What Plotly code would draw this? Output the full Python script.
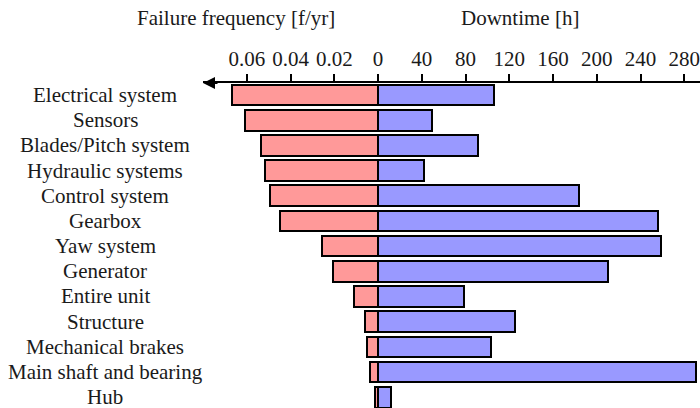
import plotly.graph_objects as go

categories = ["Electrical system", "Sensors", "Blades/Pitch system", "Hydraulic systems",
              "Control system", "Gearbox", "Yaw system", "Generator", "Entire unit",
              "Structure", "Mechanical brakes", "Main shaft and bearing", "Hub"]
failure_freq = [0.0668, 0.0607, 0.0536, 0.0515, 0.0496, 0.0447, 0.0254,
                0.0204, 0.0108, 0.0059, 0.0049, 0.0037, 0.0012]
downtime = [106, 49, 91, 42, 184, 256, 259, 210, 79, 125, 103, 291, 12]
freq_ticks = [0.06, 0.04, 0.02]
freq_ticktext = ["0.06", "0.04", "0.02"]
down_ticks = [0, 40, 80, 120, 160, 200, 240, 280]
down_ticktext = [str(v) for v in down_ticks]

FONT = "Liberation Serif"
TXT = "#1a1a1a"
FS = 21

W, H = 700, 408
L, R, T, B = 203, 0, 83, 0
PW, PH = W - L - R, H - T - B
zero_px = 378
split = (zero_px - L) / PW


def px_x(x):
    return (x - L) / PW


def px_y(y):
    return (H - B - y) / PH


fig = go.Figure()
fig.add_trace(go.Bar(y=categories, x=failure_freq, orientation="h", xaxis="x", yaxis="y",
                     marker=dict(color="rgb(255,153,153)", line=dict(color="black", width=2)),
                     width=0.82, showlegend=False))
fig.add_trace(go.Bar(y=categories, x=downtime, orientation="h", xaxis="x2", yaxis="y",
                     marker=dict(color="rgb(153,153,255)", line=dict(color="black", width=2)),
                     width=0.82, showlegend=False))

common = dict(side="top", showline=True, linewidth=2, linecolor="black", showgrid=False,
              zeroline=False, tickwidth=2, tickcolor="black", automargin=False, anchor="y")
tf = dict(family=FONT, size=FS, color=TXT)

fig.update_layout(
    width=W, height=H,
    margin=dict(l=L, r=R, t=T, b=B, autoexpand=False),
    paper_bgcolor="white", plot_bgcolor="white",
    bargap=0,
    xaxis=dict(domain=[0, split], range=[0.08, 0], tickmode="array", tickvals=freq_ticks,
               ticktext=freq_ticktext, ticks="outside", ticklen=7, ticklabelstandoff=0,
               tickfont=tf, **common),
    xaxis3=dict(overlaying="x", range=[0.08, 0], tickmode="array", tickvals=freq_ticks,
                ticks="inside", ticklen=6, showticklabels=False, **common),
    xaxis2=dict(domain=[split, 1], range=[0, 294.4], tickmode="array", tickvals=down_ticks,
                ticktext=down_ticktext, ticks="outside", ticklen=7, ticklabelstandoff=0,
                tickfont=tf, **common),
    xaxis4=dict(overlaying="x2", range=[0, 294.4], tickmode="array", tickvals=down_ticks,
                ticks="inside", ticklen=6, showticklabels=False, **common),
    yaxis=dict(type="category", categoryorder="array", categoryarray=categories,
               range=[12.43, -0.48], showticklabels=False, showgrid=False, zeroline=False,
               showline=False, ticks="", automargin=False),
)

for c in categories:
    fig.add_annotation(x=px_x(105), xref="paper", y=c, yref="y", text=c, showarrow=False,
                       xanchor="center", yanchor="middle", font=tf)

fig.add_annotation(x=px_x(236), xref="paper", y=px_y(18), yref="paper",
                   text="Failure frequency [f/yr]", showarrow=False,
                   xanchor="center", yanchor="middle", font=tf)
fig.add_annotation(x=px_x(520), xref="paper", y=px_y(18), yref="paper",
                   text="Downtime [h]", showarrow=False,
                   xanchor="center", yanchor="middle", font=tf)

# arrow head at the left end of the frequency axis
fig.add_annotation(x=0, xref="paper", y=1, yref="paper", ax=16, ay=0, text="",
                   showarrow=True, arrowhead=2, arrowsize=1.2, arrowwidth=2, arrowcolor="black")

fig.write_html("out.html", config={"displayModeBar": False},
               post_script="document.body.style.margin='0';document.body.style.overflow='hidden';")
